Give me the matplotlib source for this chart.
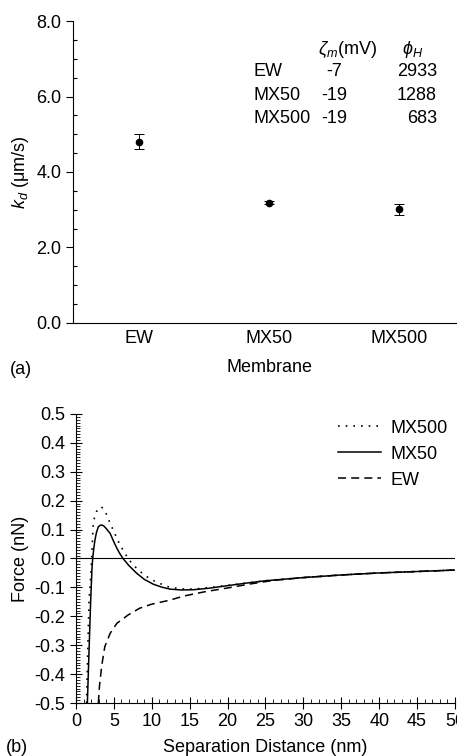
import numpy as np
import matplotlib
matplotlib.use("Agg")
from matplotlib import pyplot as plt
from matplotlib.ticker import MultipleLocator, FormatStrFormatter

plt.rcParams['font.family'] = ['Liberation Sans', 'DejaVu Sans']
plt.rcParams['axes.unicode_minus'] = False
plt.rcParams['mathtext.fontset'] = 'custom'
plt.rcParams['mathtext.it'] = 'Liberation Sans:italic'
plt.rcParams['mathtext.rm'] = 'Liberation Sans'

# panel (a) data
membranes = ["EW", "MX50", "MX500"]
kd = [4.80, 3.19, 3.01]
kd_err = [0.20, 0.05, 0.14]
zeta = ["-7", "-19", "-19"]
phi_h = ["2933", "1288", "683"]

# panel (b) data: force curves
mx50_d = [1.5, 1.72, 1.94, 2.1, 2.2, 2.35, 2.5, 2.7, 2.95, 3.2, 3.4, 3.7, 4.0, 4.5, 5.0,
          5.4, 5.8, 6.2, 7.0, 8.0, 9.0, 10.2, 11.3, 12.4, 13.9, 15.5, 17.5, 20, 22.5,
          25, 30, 35, 40, 45, 50]
mx50_f = [-0.5, -0.32, -0.144, -0.04, 0.0, 0.035, 0.064, 0.09, 0.11, 0.115, 0.116, 0.112,
          0.103, 0.087, 0.057, 0.035, 0.016, 0.0, -0.025, -0.051, -0.072, -0.089, -0.099,
          -0.106, -0.109, -0.108, -0.103, -0.094, -0.085, -0.077, -0.066, -0.057, -0.050,
          -0.045, -0.040]
mx500_d = [1.4, 1.55, 1.72, 1.85, 1.95, 2.07, 2.2, 2.3, 2.5, 2.7, 3.0, 3.3, 3.7, 4.05, 4.5,
           5.0, 5.8, 6.5, 7.0, 8.0, 9.0, 10.0, 12.0, 13.7, 15.5, 17.5, 20, 22.5, 25, 30,
           35, 40, 45, 50]
mx500_f = [-0.5, -0.32, -0.144, -0.098, -0.06, 0.0, 0.08, 0.125, 0.148, 0.162, 0.174, 0.179,
           0.170, 0.151, 0.122, 0.093, 0.047, 0.016, -0.005, -0.034, -0.057, -0.074, -0.097,
           -0.105, -0.106, -0.101, -0.093, -0.085, -0.077, -0.066, -0.057, -0.050, -0.045,
           -0.040]
ew_d = [2.95, 3.1, 3.4, 3.8, 4.5, 5.4, 6.9, 8.4, 10, 12.4, 14.2, 17, 20, 23, 26, 30, 35,
        40, 45, 50]
ew_f = [-0.5, -0.44, -0.37, -0.305, -0.259, -0.224, -0.195, -0.172, -0.158, -0.144, -0.130,
        -0.115, -0.102, -0.088, -0.076, -0.066, -0.057, -0.050, -0.045, -0.040]

fig = plt.figure(figsize=(4.57, 7.56), dpi=100)
fs = 13

# ---- (a)
ax1 = fig.add_axes([0.160, 0.5728, 0.840, 0.3994])
x = np.arange(1, len(membranes) + 1)
ax1.errorbar(x, kd, yerr=kd_err, fmt='o', color='black', ms=4.5, capsize=3.5,
             elinewidth=0.7, capthick=0.7)
ax1.set_xlim(0.49, 3.45)
ax1.set_ylim(0, 8)
ax1.spines['top'].set_visible(False)
ax1.spines['right'].set_visible(False)
ax1.set_xticks(x)
ax1.set_xticklabels(membranes, fontsize=fs)
ax1.tick_params(axis='x', length=0, pad=5)
ax1.yaxis.set_major_locator(MultipleLocator(2))
ax1.yaxis.set_minor_locator(MultipleLocator(0.5))
ax1.yaxis.set_major_formatter(FormatStrFormatter('%.1f'))
ax1.tick_params(axis='y', which='major', direction='out', length=5, labelsize=fs, width=0.8)
ax1.tick_params(axis='y', which='minor', direction='in', length=3, width=0.8)
ax1.set_ylabel('$k_d$ (μm/s)', fontsize=fs, labelpad=4)

tx = [0.469, 0.68, 0.948]
ty = [0.832, 0.752, 0.677]
ax1.text(0.715, 0.905, r'$\zeta_m$(mV)', transform=ax1.transAxes, ha='center', va='center', fontsize=fs)
ax1.text(0.885, 0.905, r'$\phi_H$', transform=ax1.transAxes, ha='center', va='center', fontsize=fs)
for i in range(len(membranes)):
    ax1.text(tx[0], ty[i], membranes[i], transform=ax1.transAxes, ha='left', va='center', fontsize=fs)
    ax1.text(tx[1], ty[i], zeta[i], transform=ax1.transAxes, ha='center', va='center', fontsize=fs)
    ax1.text(tx[2], ty[i], phi_h[i], transform=ax1.transAxes, ha='right', va='center', fontsize=fs)

fig.text(0.022, 1 - 370 / 756, '(a)', fontsize=fs, va='center', ha='left')
fig.text(270 / 457, 1 - 368 / 756, 'Membrane', fontsize=fs, va='center', ha='center')

# ---- (b)
ax2 = fig.add_axes([0.1663, 0.0701, 0.8293, 0.3823])
ax2.plot(mx500_d, mx500_f, color='black', lw=1.2, ls=(0, (1, 3.6)), label='MX500')
ax2.plot(mx50_d, mx50_f, color='black', lw=1.1, ls='-', label='MX50')
ax2.plot(ew_d, ew_f, color='black', lw=1.1, ls=(0, (5.3, 3.3)), label='EW')
ax2.axhline(0, color='black', lw=0.8)
ax2.set_xlim(0, 50)
ax2.set_ylim(-0.5, 0.5)
ax2.spines['top'].set_visible(False)
ax2.spines['right'].set_visible(False)
ax2.xaxis.set_major_locator(MultipleLocator(5))
ax2.xaxis.set_minor_locator(MultipleLocator(1))
ax2.yaxis.set_major_locator(MultipleLocator(0.1))
ax2.yaxis.set_minor_locator(MultipleLocator(0.01))
ax2.yaxis.set_major_formatter(FormatStrFormatter('%.1f'))
ax2.tick_params(which='major', direction='inout', length=8, width=0.8, labelsize=fs)
ax2.tick_params(which='minor', direction='in', length=3, width=0.6)
ax2.set_ylabel('Force (nN)', fontsize=fs, labelpad=4)
leg = ax2.legend(loc='upper right', bbox_to_anchor=(1.0, 1.005), frameon=False, fontsize=fs,
                 handlelength=2.4, handletextpad=0.5, labelspacing=0.5, borderaxespad=0)

fig.text(0.012, 1 - 747 / 756, '(b)', fontsize=fs, va='center', ha='left')
fig.text(265 / 457, 1 - 747 / 756, 'Separation Distance (nm)', fontsize=fs, va='center', ha='center')

fig.savefig('out.png', dpi=100)
